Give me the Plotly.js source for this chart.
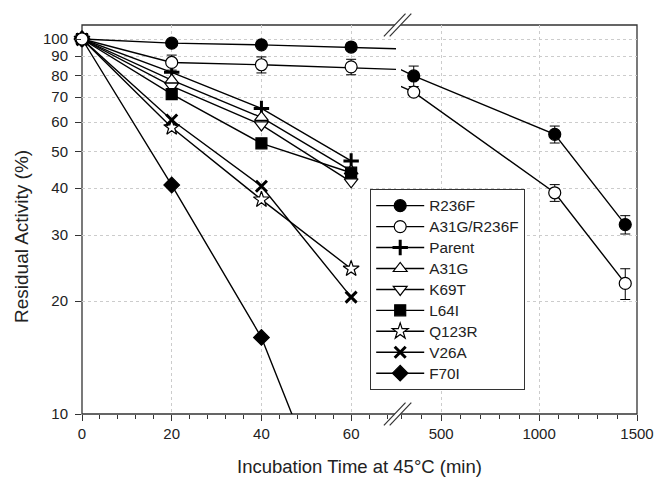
<!DOCTYPE html>
<html><head><meta charset="utf-8">
<script src="https://cdn.plot.ly/plotly-3.0.1.min.js"></script>
<style>html,body{margin:0;padding:0;background:#fff}</style>
</head><body><div id="chart" style="width:655px;height:477px"></div>
<script>
// ---- data ----
const seriesNames = ['R236F','A31G/R236F','Parent','A31G','K69T','L64I','Q123R','V26A','F70I'];
const timeShort = [0, 20, 40, 60];
const timeLong = [0, 20, 40, 60, 360, 1080, 1440];
const r236f = [100, 97.5, 96.5, 95.2, 79.7, 55.7, 32.0];
const r236fErr = [0, 0, 0, 0, 5.0, 2.9, 1.8];
const a31gR236f = [100, 86.6, 85.4, 84.3, 72.2, 38.9, 22.3];
const a31gR236fErr = [0, 4.0, 4.2, 4.0, 1.5, 2.0, 2.1];
const parent = [100, 81.5, 65.3, 47.3];
const a31g = [100, 77.7, 61.8, 44.5];
const k69t = [100, 74.9, 59.0, 41.6];
const l64i = [100, 71.3, 52.7, 44.0];
const q123r = [100, 58.1, 37.3, 24.4];
const v26a = [100, 60.8, 40.5, 20.5];
const f70i = [100, 40.8, 16.0, 4.0];
const xTicksLeft = [0, 20, 40, 60];
const xTicksRight = [500, 1000, 1500];
const yTicks = [10, 20, 30, 40, 50, 60, 70, 80, 90, 100];

// ---- styles ----
const styles = {
  'R236F':      {symbol:'circle', fill:'#000', size:12},
  'A31G/R236F': {symbol:'circle', fill:'#fff', size:12},
  'Parent':     {symbol:'cross-thin', fill:'#000', size:11, lw:3},
  'A31G':       {symbol:'triangle-up', fill:'#fff', size:12},
  'K69T':       {symbol:'triangle-down', fill:'#fff', size:12},
  'L64I':       {symbol:'square', fill:'#000', size:11},
  'Q123R':      {symbol:'star', fill:'#fff', size:12},
  'V26A':       {symbol:'x-thin', fill:'#000', size:11, lw:3},
  'F70I':       {symbol:'diamond', fill:'#000', size:12}
};
const drawOrder = ['Parent','A31G','K69T','L64I','Q123R','V26A','F70I','R236F','A31G/R236F'];
const seriesData = {
  'R236F': [timeLong, r236f, r236fErr],
  'A31G/R236F': [timeLong, a31gR236f, a31gR236fErr],
  'Parent': [timeShort, parent, null],
  'A31G': [timeShort, a31g, null],
  'K69T': [timeShort, k69t, null],
  'L64I': [timeShort, l64i, null],
  'Q123R': [timeShort, q123r, null],
  'V26A': [timeShort, v26a, null],
  'F70I': [timeShort, f70i, null]
};

function markerFor(name){
  const s = styles[name];
  return {symbol:s.symbol, size:s.size, color:s.fill,
          line:{color:'#000', width: s.lw || 1.2}};
}

const legendTextSize = 15.3;
const traces = [];
drawOrder.forEach(name => {
  const [xs, ys, err] = seriesData[name];
  const base = {
    type:'scatter', mode:'lines+markers',
    name:`<span style="font-size:${legendTextSize}px">${name}</span>`,
    legendrank: seriesNames.indexOf(name) + 1,
    x:xs, y:ys,
    line:{color:'#000', width:1.4},
    marker:markerFor(name)
  };
  if (err) base.error_y = {type:'data', array:err, color:'#000', thickness:1, width:5};
  traces.push(Object.assign({}, base, {xaxis:'x', yaxis:'y', cliponaxis:false}));
  if (err) traces.push(Object.assign({}, base, {xaxis:'x2', yaxis:'y', showlegend:false, cliponaxis:true}));
});

// ---- geometry helpers (layout only) ----
const Wd = 655, Ht = 477, mL = 82, mR = 18, mT = 25, mB = 63;
const pW = Wd - mL - mR, pH = Ht - mT - mB;
const px = x => (x - mL) / pW;
const py = y => (Ht - mB - y) / pH;
function seg(x0,y0,x1,y1){ return `M${px(x0)},${py(y0)} L${px(x1)},${py(y1)}`; }

const shapes = [
  {type:'rect', xref:'paper', yref:'paper', x0:0, y0:0, x1:1, y1:1,
   line:{color:'#333', width:1.3}, layer:'below'}
];
const breakX = [394.7, 400.5];
const dx = 10.8, dy = 11.3, k = dx/dy;
[mT, Ht - mB].forEach(yc => {
  const h = 3;
  shapes.push({type:'path', xref:'paper', yref:'paper', layer:'above',
    path:`M${px(breakX[0]-h*k)},${py(yc+h)} L${px(breakX[1]-h*k)},${py(yc+h)} L${px(breakX[1]+h*k)},${py(yc-h)} L${px(breakX[0]+h*k)},${py(yc-h)} Z`,
    fillcolor:'#fff', line:{width:0}});
  breakX.forEach(cx => {
    shapes.push({type:'path', xref:'paper', yref:'paper', layer:'above',
      path: seg(cx-dx, yc+dy, cx+dx, yc-dy), line:{color:'#333', width:1.2}});
  });
});

const gridStyle = {showgrid:true, gridcolor:'#cccccc', griddash:'dot', gridwidth:1};
const font = {family:'Liberation Sans, Arial, sans-serif', size:15, color:'#222'};

const layout = {
  width:Wd, height:Ht,
  margin:{l:mL, r:mR, t:mT, b:mB, pad:0},
  paper_bgcolor:'#fff', plot_bgcolor:'rgba(0,0,0,0)',
  font:font,
  showlegend:true,
  xaxis: Object.assign({domain:[0, (396-mL)/pW], range:[0,70], tickvals:xTicksLeft,
    ticks:'outside', ticklen:6, tickcolor:'#333', zeroline:false, showline:false,
    minor:{ticks:'outside', dtick:4, tick0:0, ticklen:4, tickcolor:'#333', showgrid:false},
    anchor:'y', fixedrange:true}, gridStyle),
  xaxis2: Object.assign({domain:[(401-mL)/pW, 1], range:[295,1500], tickvals:xTicksRight,
    ticks:'outside', ticklen:6, tickcolor:'#333', zeroline:false, showline:false,
    minor:{ticks:'outside', dtick:100, tick0:0, ticklen:4, tickcolor:'#333', showgrid:false},
    anchor:'y', fixedrange:true}, gridStyle),
  yaxis: Object.assign({type:'log', range:[1, 2.0374], tickvals:yTicks, ticktext:yTicks.map(String),
    ticks:'outside', ticklen:6, tickcolor:'#333', zeroline:false, showline:false,
    ticklabelstandoff:4, anchor:'x', fixedrange:true}, gridStyle),
  legend:{x:px(370), y:py(189), xanchor:'left', yanchor:'top',
    bgcolor:'#fff', bordercolor:'#333', borderwidth:1.2,
    font:{family:font.family, size:13.8, color:'#222'}, itemwidth:48, tracegroupgap:0},
  shapes:shapes,
  annotations:[
    {text:'Incubation Time at 45°C (min)', xref:'paper', yref:'paper', x:0.5, y:py(467),
     xanchor:'center', yanchor:'middle', showarrow:false, font:{size:18.5}},
    {text:'Residual Activity (%)', xref:'paper', yref:'paper', x:px(21), y:py(237),
     xanchor:'center', yanchor:'middle', textangle:-90, showarrow:false, font:{size:19}}
  ]
};

Plotly.newPlot('chart', traces, layout, {displayModeBar:false, staticPlot:true});
</script>
</body></html>
